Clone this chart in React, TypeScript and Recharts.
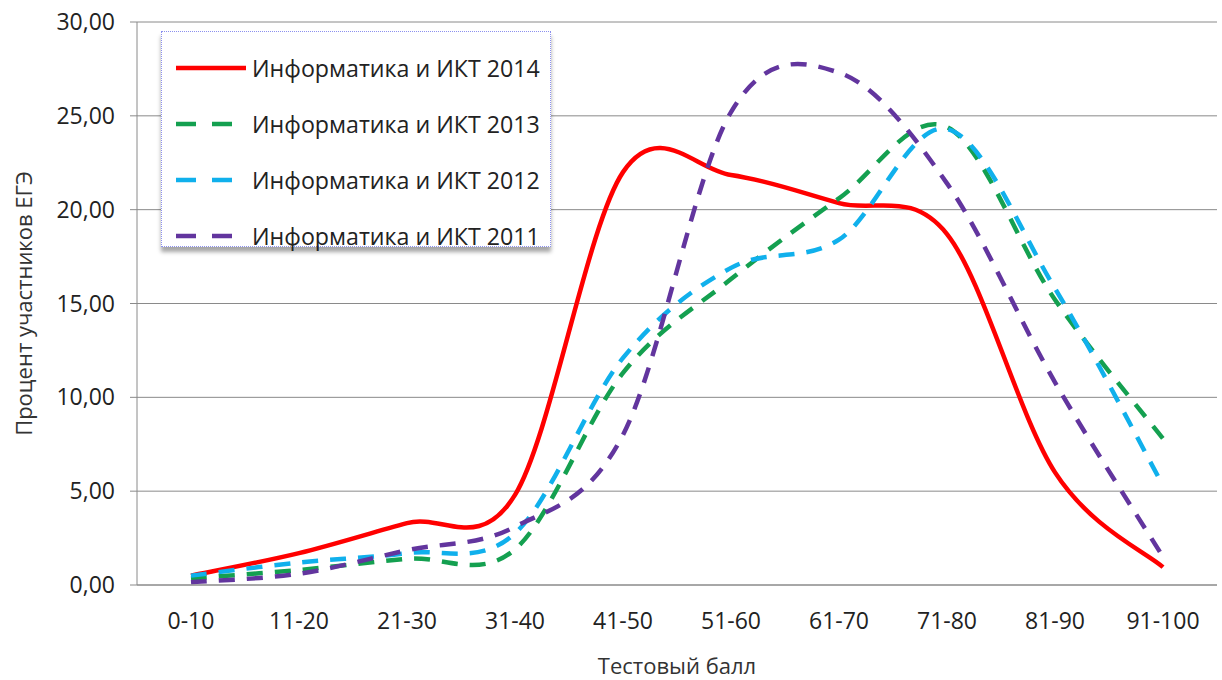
import { LineChart, Line, XAxis, YAxis, CartesianGrid, Legend } from 'recharts'

// score ranges on the x axis
const categories = ['0-10', '11-20', '21-30', '31-40', '41-50', '51-60', '61-70', '71-80', '81-90', '91-100']

// percent of participants per range
const inf2014 = [0.5, 1.7, 3.3, 4.8, 22.0, 21.85, 20.35, 18.7, 6.0, 0.95]
const inf2013 = [0.35, 0.8, 1.4, 1.9, 11.3, 16.3, 20.6, 24.4, 15.2, 7.8]
const inf2012 = [0.5, 1.2, 1.7, 2.75, 12.1, 16.9, 18.4, 24.3, 15.8, 5.3]
const inf2011 = [0.15, 0.6, 1.85, 3.1, 8.0, 25.2, 27.3, 21.4, 10.8, 1.5]

const yTicks = [0, 5, 10, 15, 20, 25, 30]

const series = [
  { key: 'y2014', name: 'Информатика и ИКТ 2014', color: '#ff0000', dash: undefined },
  { key: 'y2013', name: 'Информатика и ИКТ 2013', color: '#14a050', dash: '16 12' },
  { key: 'y2012', name: 'Информатика и ИКТ 2012', color: '#10b0ec', dash: '16 12' },
  { key: 'y2011', name: 'Информатика и ИКТ 2011', color: '#62359e', dash: '16 12' },
]

const data = categories.map((range, i) => ({
  range,
  y2014: inf2014[i],
  y2013: inf2013[i],
  y2012: inf2012[i],
  y2011: inf2011[i],
}))

const FONT = '"Open Sans", Lato, sans-serif'

// Excel-like smoothed line (Catmull-Rom through the points)
function excelSmooth(context: any) {
  let pts: number[][] = []
  return {
    areaStart() {},
    areaEnd() {},
    lineStart() {
      pts = []
    },
    point(x: number, y: number) {
      pts.push([+x, +y])
    },
    lineEnd() {
      const n = pts.length
      if (!n) return
      context.moveTo(pts[0][0], pts[0][1])
      for (let i = 0; i < n - 1; i++) {
        const p0 = pts[Math.max(i - 1, 0)]
        const p1 = pts[i]
        const p2 = pts[i + 1]
        const p3 = pts[Math.min(i + 2, n - 1)]
        context.bezierCurveTo(
          p1[0] + (p2[0] - p0[0]) / 6,
          p1[1] + (p2[1] - p0[1]) / 6,
          p2[0] - (p3[0] - p1[0]) / 6,
          p2[1] - (p3[1] - p1[1]) / 6,
          p2[0],
          p2[1]
        )
      }
    },
  }
}

function LegendBox() {
  return (
    <div
      style={{
        width: 390,
        height: 216,
        boxSizing: 'border-box',
        background: '#fff',
        border: '1px dotted #8c90ee',
        boxShadow: '0 5px 4px rgba(0,0,0,0.35)',
        paddingTop: 8,
        fontFamily: FONT,
      }}
    >
      {series.map((s) => (
        <div key={s.key} style={{ display: 'flex', alignItems: 'center', height: 56 }}>
          <svg width={90} height={10} style={{ marginLeft: 12 }}>
            <line
              x1={2}
              y1={5}
              x2={72}
              y2={5}
              stroke={s.color}
              strokeWidth={4.5}
              strokeDasharray={s.dash ? '20 16' : undefined}
            />
          </svg>
          <span style={{ fontSize: 23.2, color: '#222', marginLeft: -12, whiteSpace: 'nowrap' }}>{s.name}</span>
        </div>
      ))}
    </div>
  )
}

export default function App() {
  return (
    <div style={{ position: 'absolute', left: 0, top: 0, width: 1222, height: 680, background: '#fff' }}>
      <LineChart width={1222} height={680} data={data} margin={{ top: 22, right: 5, bottom: 0, left: 0 }}>
        <CartesianGrid vertical={false} stroke="#8a8a8a" />
        <XAxis
          dataKey="range"
          stroke="#8a8a8a"
          tickLine={false}
          tickSize={0}
          tickMargin={28}
          height={95}
          padding={{ left: 54, right: 54 }}
          tick={{ fill: '#222', fontSize: 23, fontFamily: FONT }}
          label={{ value: 'Тестовый балл', position: 'insideBottom', offset: 6, fill: '#333', fontSize: 22, fontFamily: FONT }}
        />
        <YAxis
          width={137}
          domain={[0, 30]}
          ticks={yTicks}
          stroke="#8a8a8a"
          tickSize={7}
          tickMargin={15}
          tick={{ fill: '#222', fontSize: 23, fontFamily: FONT }}
          tickFormatter={(v: number) => v.toFixed(2).replace('.', ',')}
          label={{
            value: 'Процент участников ЕГЭ',
            angle: -90,
            position: 'insideLeft',
            offset: 24,
            fill: '#333',
            fontSize: 22,
            fontFamily: FONT,
            style: { textAnchor: 'middle' },
          }}
        />
        <Legend
          layout="vertical"
          verticalAlign="middle"
          align="center"
          content={() => <LegendBox />}
          wrapperStyle={{ left: 161, top: 31, width: 390 }}
        />
        {series.map((s) => (
          <Line
            key={s.key}
            dataKey={s.key}
            name={s.name}
            type={excelSmooth as any}
            stroke={s.color}
            strokeWidth={4.5}
            strokeDasharray={s.dash}
            dot={false}
            activeDot={false}
            isAnimationActive={false}
          />
        ))}
      </LineChart>
    </div>
  )
}
